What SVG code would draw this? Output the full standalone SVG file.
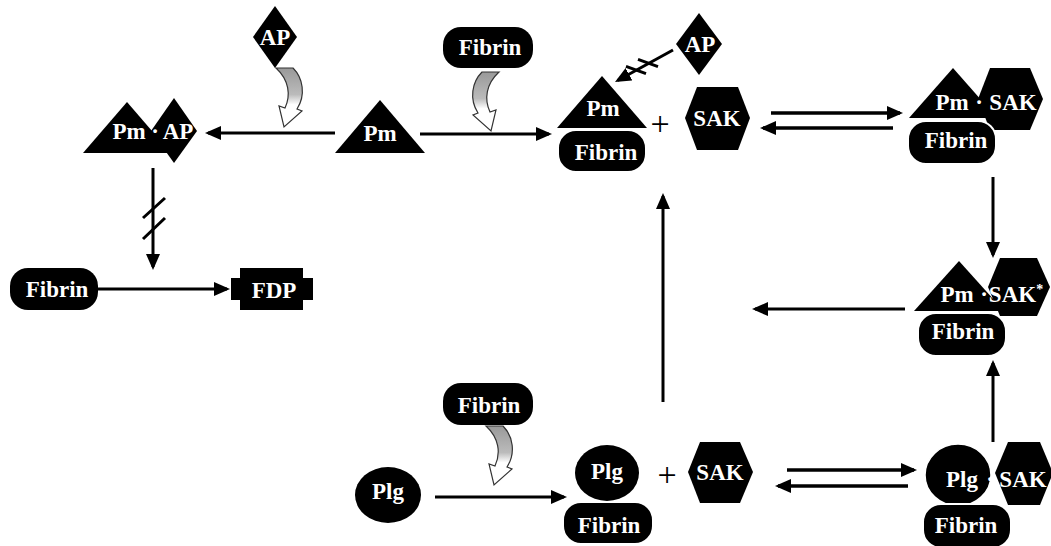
<svg xmlns="http://www.w3.org/2000/svg" width="1051" height="546" viewBox="0 0 1051 546">
<style>
.t{font-family:"Liberation Serif","Times New Roman","DejaVu Serif",serif;font-weight:bold;font-size:23px;fill:#fff;text-anchor:middle}
.k{fill:#000}
.fb{fill:#000;stroke:#fff;stroke-width:2}
.ln{stroke:#000;stroke-width:3;fill:none}
.ln2{stroke:#000;stroke-width:3.5;fill:none}
.plus{font-family:"Liberation Serif","Times New Roman",serif;font-size:34px;fill:#000;text-anchor:middle}
.curl{fill:url(#cg);stroke:#333;stroke-width:1.2}
</style>
<defs>
<marker id="ah" viewBox="0 0 16 14" refX="13" refY="7" markerWidth="16" markerHeight="14" markerUnits="userSpaceOnUse" orient="auto"><path d="M0,0 L16,7 L0,14 Z" fill="#000"/></marker>
<linearGradient id="cg" x1="0" y1="0" x2="0" y2="1"><stop offset="0" stop-color="#999"/><stop offset="0.45" stop-color="#bbb"/><stop offset="0.62" stop-color="#fff"/><stop offset="1" stop-color="#fff"/></linearGradient>
<path id="curlp" d="M0,0 L17,0 C27,10 30,27 21,41 L26,43 L8,59 L3,38 L9,40 C15,27 13,12 0,0 Z"/>
</defs>

<g id="connectors">
<path class="ln" d="M335,133 L208,133" marker-end="url(#ah)"/>
<path class="ln" d="M420,134 L549,134" marker-end="url(#ah)"/>
<path class="ln" d="M673,50 L617.6,80.5" marker-end="url(#ah)"/>
<path class="ln" d="M626,66.4 L646,73.6 M638,59.4 L658,66.6"/>
<path class="ln2" d="M771,113 L900,113" marker-end="url(#ah)"/>
<path class="ln2" d="M893,128 L763,128" marker-end="url(#ah)"/>
<path class="ln" d="M993,177 L993,255" marker-end="url(#ah)"/>
<path class="ln" d="M905,309 L755,309" marker-end="url(#ah)"/>
<path class="ln" d="M993,442 L993,363" marker-end="url(#ah)"/>
<path class="ln2" d="M787,470 L914,470" marker-end="url(#ah)"/>
<path class="ln2" d="M908,486 L778,486" marker-end="url(#ah)"/>
<path class="ln" d="M663,402 L663,196" marker-end="url(#ah)"/>
<path class="ln" d="M153,168 L153,267" marker-end="url(#ah)"/>
<path class="ln" d="M143,218 L165,198 M143,239 L165,218"/>
<path class="ln" d="M98,289 L227,289" marker-end="url(#ah)"/>
<path class="ln" d="M435,497 L564,497" marker-end="url(#ah)"/>
<use href="#curlp" class="curl" transform="translate(276,68)"/>
<use href="#curlp" class="curl" transform="translate(499,72) scale(-1,1)"/>
<use href="#curlp" class="curl" transform="translate(486,426)"/>
</g>

<g id="ap-top">
<polygon class="k" points="275,6 297,37 275,68 253,37"/>
<text class="t" x="275" y="45">AP</text>
</g>

<g id="pm-ap">
<polygon class="k" points="83,153 127,102 171,153"/>
<polygon class="k" points="174,98 197,131 174,163 151,131"/>
<text class="t" x="129" y="139">Pm</text>
<text class="t" x="155" y="139">·</text>
<text class="t" x="178" y="139">AP</text>
</g>

<g id="pm">
<polygon class="k" points="335,153 380,100 425,153"/>
<text class="t" x="380" y="141">Pm</text>
</g>

<g id="fibrin-top">
<rect class="k" x="443" y="27" width="90" height="41" rx="18"/>
<text class="t" x="490" y="55">Fibrin</text>
</g>

<g id="pm-fibrin">
<polygon class="k" points="557,128 602,76 647,128"/>
<rect class="fb" x="558" y="130" width="88" height="42" rx="18"/>
<text class="t" x="603" y="116">Pm</text>
<text class="t" x="606" y="160">Fibrin</text>
</g>

<g id="plus-top"><text class="plus" x="660" y="135">+</text></g>

<g id="ap-right">
<polygon class="k" points="699,13 722,44 699,75 676,44"/>
<text class="t" x="700" y="52">AP</text>
</g>

<g id="sak-top">
<polygon class="k" points="685,118 697,87 738,87 750,118 738,150 697,150"/>
<text class="t" x="717" y="126">SAK</text>
</g>

<g id="pm-sak-fibrin">
<polygon class="k" points="909,118 953,68 997,118"/>
<polygon class="k" points="978,99 990,68 1030,68 1043,99 1030,130 990,130"/>
<rect class="fb" x="908" y="121" width="88" height="43" rx="18"/>
<text class="t" x="952" y="110">Pm</text>
<text class="t" x="979" y="110">·</text>
<text class="t" x="1013" y="110">SAK</text>
<text class="t" x="956" y="148">Fibrin</text>
</g>

<g id="pm-sak-star-fibrin">
<polygon class="k" points="914,311 959,261 1004,311"/>
<polygon class="k" points="988,287 1000,258 1037,258 1050,287 1037,316 1000,316"/>
<rect class="fb" x="918" y="313" width="88" height="43" rx="18"/>
<text class="t" x="957" y="302">Pm</text>
<text class="t" x="984" y="302">·</text>
<text class="t" x="1016" y="302">SAK<tspan font-size="14" dy="-8">*</tspan></text>
<text class="t" x="963" y="339">Fibrin</text>
</g>

<g id="fibrin-left">
<rect class="k" x="10" y="268" width="88" height="42" rx="18"/>
<text class="t" x="57" y="297">Fibrin</text>
</g>

<g id="fdp">
<rect class="k" x="240" y="268" width="63" height="42"/>
<rect class="k" x="231" y="278" width="10" height="22"/>
<rect class="k" x="302" y="278" width="11" height="22"/>
<text class="t" x="274" y="298">FDP</text>
</g>

<g id="fibrin-bottom">
<rect class="k" x="443" y="383" width="90" height="42" rx="18"/>
<text class="t" x="489" y="413">Fibrin</text>
</g>

<g id="plg">
<ellipse class="k" cx="388" cy="495" rx="33" ry="28"/>
<text class="t" x="388" y="499">Plg</text>
</g>

<g id="plg-fibrin">
<ellipse class="k" cx="607" cy="473" rx="32" ry="28"/>
<rect class="fb" x="563" y="502" width="90" height="42" rx="18"/>
<text class="t" x="607" y="479">Plg</text>
<text class="t" x="609" y="533">Fibrin</text>
</g>

<g id="plus-bottom"><text class="plus" x="667" y="486">+</text></g>

<g id="sak-bottom">
<polygon class="k" points="688,472 700,442 740,442 753,472 740,503 700,503"/>
<text class="t" x="720" y="480">SAK</text>
</g>

<g id="plg-sak-fibrin">
<polygon class="k" points="995,473 1008,442 1040,442 1053,473 1040,505 1008,505"/>
<ellipse class="k" cx="958" cy="475" rx="33" ry="31" stroke="#fff" stroke-width="1.5"/>
<rect class="fb" x="923" y="504" width="88" height="44" rx="18"/>
<text class="t" x="962" y="487">Plg</text>
<text class="t" x="990" y="487">·</text>
<text class="t" x="1023" y="487">SAK</text>
<text class="t" x="966" y="533">Fibrin</text>
</g>
</svg>
